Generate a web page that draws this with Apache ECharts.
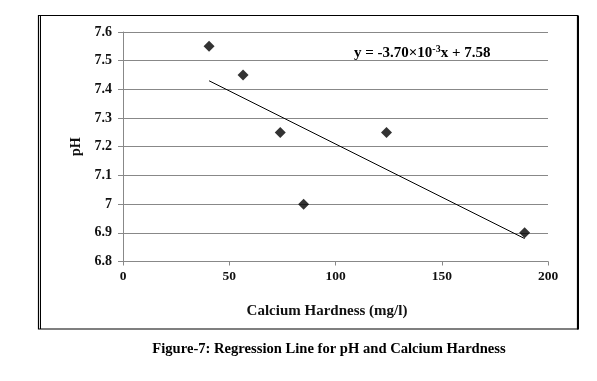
<!DOCTYPE html>
<html>
<head>
<meta charset="utf-8">
<script src="https://cdn.jsdelivr.net/npm/echarts@6/dist/echarts.min.js"></script>
<style>
html,body{margin:0;padding:0;background:#fff;}
#chart{width:597px;height:381px;}
</style>
</head>
<body>
<div id="chart"></div>
<script>
// Data
var hardness = [40.5, 56.5, 74, 85, 124, 189];
var ph = [7.55, 7.45, 7.25, 7.0, 7.25, 6.9];
// Regression line endpoints (y = -3.70e-3 x + 7.58)
var trendX = [40.5, 189];
var trendY = [7.43, 6.88];
var xTicks = [0, 50, 100, 150, 200];
var yTicks = [6.8, 6.9, 7, 7.1, 7.2, 7.3, 7.4, 7.5, 7.6];

var font = '"Liberation Serif", "Times New Roman", serif';
var chart = echarts.init(document.getElementById('chart'), null, {renderer: 'canvas'});

var points = hardness.map(function (x, i) { return [x, ph[i]]; });
var trend = trendX.map(function (x, i) { return [x, trendY[i]]; });

chart.setOption({
  animation: false,
  backgroundColor: '#fff',
  grid: {left: 123, right: 49, top: 32, bottom: 119.5, containLabel: false},
  xAxis: {
    type: 'value', min: xTicks[0], max: xTicks[xTicks.length - 1], interval: 50,
    axisLine: {show: true, onZero: false, lineStyle: {color: '#888', width: 1}},
    axisTick: {show: true, length: 4, lineStyle: {color: '#888'}},
    splitLine: {show: false},
    axisLabel: {color: '#111', fontFamily: font, fontWeight: 'bold', fontSize: 13.5, margin: 8},
    name: 'Calcium Hardness (mg/l)', nameLocation: 'middle', nameGap: 42,
    nameTextStyle: {color: '#111', fontFamily: font, fontWeight: 'bold', fontSize: 15, padding: [0, 17, 0, 0]}
  },
  yAxis: {
    type: 'value', min: 6.8, max: 7.6, interval: 0.1,
    axisLine: {show: true, lineStyle: {color: '#888', width: 1}},
    axisTick: {show: true, length: 5, lineStyle: {color: '#888'}},
    splitLine: {show: true, lineStyle: {color: '#888', width: 1}},
    axisLabel: {color: '#111', fontFamily: font, fontWeight: 'bold', fontSize: 14, margin: 11,
      formatter: function (v) { return String(Math.round(v * 10) / 10); }},
    name: 'pH', nameLocation: 'middle', nameGap: 37, nameRotate: 90,
    nameTextStyle: {color: '#111', fontFamily: font, fontWeight: 'bold', fontSize: 14}
  },
  series: [
    {
      type: 'line', data: trend, symbol: 'none', silent: true,
      lineStyle: {color: '#000', width: 1}, z: 2
    },
    {
      type: 'scatter', data: points, symbol: 'diamond', symbolSize: 11,
      itemStyle: {color: '#000'}, z: 3
    }
  ],
  graphic: [
    {type: 'rect', shape: {x: 38.5, y: 15.5, width: 539, height: 313.5},
     style: {fill: 'none', stroke: '#000', lineWidth: 1.2}, silent: true},
    {type: 'line', shape: {x1: 40.5, y1: 15.5, x2: 40.5, y2: 329}, style: {stroke: '#000', lineWidth: 1}, silent: true},
    {type: 'line', shape: {x1: 578, y1: 15.5, x2: 578, y2: 329.5}, style: {stroke: '#000', lineWidth: 2}, silent: true},
    {
      type: 'text', left: 354, top: 44, silent: true,
      style: {
        text: '{m|y = -3.70×10}{s|-3}{m|x + 7.58}',
        rich: {
          m: {fontFamily: font, fontWeight: 'bold', fontSize: 15, fill: '#000', lineHeight: 17, verticalAlign: 'bottom'},
          s: {fontFamily: font, fontWeight: 'bold', fontSize: 10, fill: '#000', lineHeight: 17, verticalAlign: 'top'}
        }
      }
    },
    {
      type: 'text', x: 329, y: 349, silent: true,
      style: {text: 'Figure-7: Regression Line for pH and Calcium Hardness',
        fontFamily: font, fontWeight: 'bold', fontSize: 14.6, fill: '#000',
        align: 'center', verticalAlign: 'middle'}
    }
  ]
});
</script>
</body>
</html>
